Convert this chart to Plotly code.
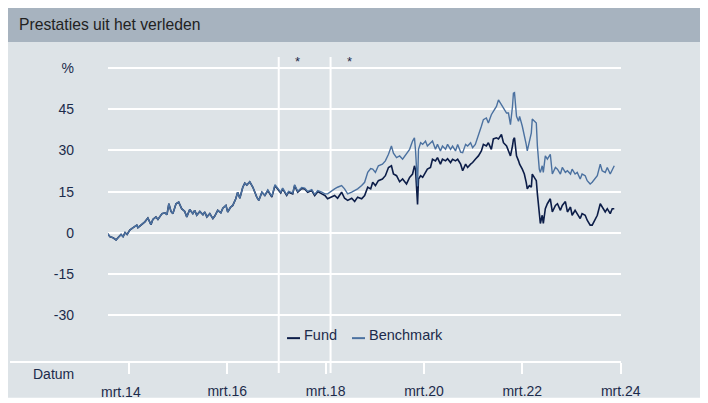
import plotly.graph_objects as go

dates = [
    "2013-09-22", "2013-10-12", "2013-11-04", "2013-11-26", "2013-12-10",
    "2014-01-02", "2014-01-17", "2014-02-01", "2014-02-16", "2014-03-08", "2014-03-30", "2014-04-29", "2014-05-07",
    "2014-06-06", "2014-06-28", "2014-07-20", "2014-08-12", "2014-08-26", "2014-09-18", "2014-10-03", "2014-11-02",
    "2014-11-24", "2014-12-09", "2014-12-23",
    "2015-01-08", "2015-01-22", "2015-02-14", "2015-03-06", "2015-03-28", "2015-04-20", "2015-05-05", "2015-05-27",
    "2015-06-19", "2015-07-03", "2015-07-18", "2015-08-10", "2015-09-02", "2015-09-16", "2015-10-01", "2015-10-23",
    "2015-11-15", "2015-11-29", "2015-12-21",
    "2016-01-13", "2016-01-28", "2016-02-20", "2016-03-04", "2016-03-26", "2016-04-11", "2016-05-03", "2016-05-17",
    "2016-06-02", "2016-06-24", "2016-07-09", "2016-07-24", "2016-08-15", "2016-09-07", "2016-10-06", "2016-10-21",
    "2016-11-13", "2016-12-05", "2016-12-27",
    "2017-01-26", "2017-02-18", "2017-03-10", "2017-04-02", "2017-04-16", "2017-05-16", "2017-05-30", "2017-06-30",
    "2017-07-14", "2017-08-06", "2017-09-05", "2017-09-27", "2017-10-19", "2017-11-18", "2017-12-10",
    "2018-01-02", "2018-02-01", "2018-02-24", "2018-03-16", "2018-04-15", "2018-05-07", "2018-05-29", "2018-06-28",
    "2018-07-20", "2018-08-12", "2018-09-11", "2018-10-03", "2018-10-25", "2018-11-24", "2018-12-16",
    "2019-01-08", "2019-01-30", "2019-02-14", "2019-03-06", "2019-03-28", "2019-04-27", "2019-05-19", "2019-06-11",
    "2019-07-03", "2019-07-18", "2019-08-10", "2019-09-02", "2019-09-24", "2019-10-23", "2019-11-15", "2019-12-07",
    "2019-12-21", "2019-12-29",
    "2020-01-13", "2020-01-20", "2020-02-05", "2020-02-20", "2020-03-12", "2020-03-26", "2020-04-18", "2020-05-03",
    "2020-05-25", "2020-06-09", "2020-07-01", "2020-07-16", "2020-08-08", "2020-08-23", "2020-09-14", "2020-09-29",
    "2020-10-21", "2020-11-06", "2020-11-28", "2020-12-13",
    "2021-01-04", "2021-01-19", "2021-02-10", "2021-02-25", "2021-03-17", "2021-04-09", "2021-05-01", "2021-05-16",
    "2021-06-07", "2021-06-22", "2021-07-14", "2021-07-29", "2021-08-21", "2021-09-05", "2021-09-27", "2021-10-12",
    "2021-11-04", "2021-11-18", "2021-12-03", "2021-12-18", "2021-12-25",
    "2022-01-02", "2022-01-17", "2022-02-01", "2022-02-09", "2022-03-01", "2022-03-16", "2022-03-30", "2022-04-07",
    "2022-04-22", "2022-05-07", "2022-05-14", "2022-05-29", "2022-06-13", "2022-06-21", "2022-07-05", "2022-07-13",
    "2022-07-27", "2022-08-04", "2022-08-19", "2022-09-03", "2022-09-25", "2022-10-10", "2022-11-02", "2022-11-17",
    "2022-12-09", "2022-12-23",
    "2023-01-15", "2023-01-30", "2023-02-22", "2023-03-06", "2023-03-28", "2023-04-13", "2023-05-05", "2023-05-19",
    "2023-06-11", "2023-06-26", "2023-07-18", "2023-08-02", "2023-08-24", "2023-09-09", "2023-10-01", "2023-10-15",
    "2023-11-07", "2023-11-22", "2023-12-14", "2023-12-29",
    "2024-01-13",
]

fund = [
    -0.2, -1.4, -1.8, -2.6, -1.8,
    -0.6, -1.4, 0.1, -0.6, 1.0, 1.8, 2.8, 1.9, 3.0, 4.0, 5.4, 3.0, 4.9, 5.8, 4.9, 7.0, 7.3, 6.6, 10.6,
    7.8, 7.0, 10.6, 11.2, 8.8, 7.8, 5.8, 8.5, 7.0, 8.2, 6.4, 7.8, 6.6, 7.6, 5.8, 7.0, 5.2, 6.1, 8.2,
    7.3, 9.0, 10.0, 7.6, 9.4, 10.0, 12.4, 14.8, 12.6, 16.6, 18.1, 17.4, 18.6, 16.6, 13.0, 11.8, 14.8, 13.6, 15.4,
    13.0, 17.2, 16.0, 14.5, 16.0, 13.6, 14.8, 14.2, 17.2, 14.8, 16.2, 16.0, 14.8, 15.4, 13.6,
    15.0, 14.2, 13.6, 12.4, 13.0, 13.6, 12.6, 14.8, 12.6, 11.8, 12.6, 11.4, 13.0, 12.4, 13.6,
    16.6, 16.0, 18.4, 17.2, 19.0, 19.6, 20.8, 23.8, 24.4, 21.4, 20.8, 18.6, 19.6, 17.8, 20.2, 21.4, 24.4, 23.0,
    10.3, 19.6, 20.8, 20.2, 22.0, 23.2, 23.8, 26.8, 26.2, 27.4, 25.0, 26.8, 26.2, 27.0, 25.6, 26.8, 26.2, 26.8,
    25.0, 22.6,
    25.0, 23.8, 25.0, 25.6, 26.8, 28.0, 29.8, 32.2, 31.6, 32.8, 30.4, 34.2, 34.6, 34.2, 35.8, 32.8, 31.6, 29.8,
    28.0, 31.6, 34.0,
    34.6, 28.0, 26.2, 25.0, 23.2, 21.4, 18.4, 16.0, 17.2, 16.6, 21.4, 20.2, 19.0, 14.2, 7.6, 3.4, 6.4, 3.4, 8.8,
    10.6, 12.4, 7.6, 10.0, 10.6, 8.2, 10.0,
    11.4, 7.6, 9.4, 6.4, 8.2, 7.0, 5.2, 7.0, 6.4, 4.6, 2.8, 2.8, 5.2, 6.4, 10.6, 9.4, 7.6, 8.8, 7.0, 8.8,
    8.8,
]

benchmark = [
    -0.2, -1.4, -1.8, -2.6, -1.8,
    -0.6, -1.4, 0.1, -0.6, 1.0, 1.8, 2.8, 1.9, 3.0, 4.0, 5.4, 3.0, 4.9, 5.8, 4.9, 7.0, 7.3, 6.6, 10.6,
    7.8, 7.0, 10.6, 11.2, 8.8, 7.8, 5.8, 8.5, 7.0, 8.2, 6.4, 7.8, 6.6, 7.6, 5.8, 7.0, 5.2, 6.1, 8.2,
    7.3, 9.0, 10.0, 7.6, 9.4, 10.0, 12.4, 14.8, 12.6, 16.6, 18.1, 17.4, 18.6, 16.6, 13.0, 11.8, 14.8, 13.6, 15.6,
    13.3, 17.5, 16.3, 14.8, 16.3, 13.9, 15.1, 14.5, 17.5, 15.1, 16.5, 16.3, 15.1, 15.7, 14.0,
    15.4, 14.8, 14.2, 14.2, 15.4, 16.0, 16.6, 17.2, 16.0, 14.2, 14.8, 15.4, 16.0, 17.2, 18.4,
    22.0, 23.4, 23.2, 22.0, 24.4, 25.0, 26.2, 28.6, 31.6, 29.0, 27.4, 28.0, 26.8, 28.6, 30.4, 33.4, 34.6, 30.0,
    17.0, 30.4, 32.8, 32.2, 33.4, 31.6, 32.8, 33.4, 30.4, 32.2, 29.8, 31.6, 30.4, 32.2, 30.4, 31.6, 29.8, 32.2,
    29.4, 29.2,
    32.2, 31.6, 32.8, 31.0, 32.2, 35.2, 38.8, 41.2, 41.8, 40.0, 43.0, 44.2, 46.0, 48.4, 46.6, 45.4, 43.6, 43.6,
    39.4, 46.0, 50.8,
    51.0, 42.4, 40.6, 42.4, 38.8, 35.8, 32.2, 29.8, 32.8, 36.4, 41.4, 40.6, 40.0, 31.6, 23.2, 22.0, 24.4, 22.0,
    28.0, 26.8, 28.6, 21.4, 23.8, 23.2, 21.4, 23.8,
    22.0, 22.6, 21.4, 23.2, 21.4, 22.0, 19.6, 21.4, 20.8, 19.0, 17.8, 18.4, 19.6, 20.8, 25.0, 22.6, 22.0, 23.8,
    21.4, 23.2,
    24.4,
]

series_names = ["Fund", "Benchmark"]
x_tick_dates = ["2014-03-01", "2016-03-01", "2018-03-01", "2020-03-01", "2022-03-01", "2024-03-01"]
x_tick_labels = ["mrt.14", "mrt.16", "mrt.18", "mrt.20", "mrt.22", "mrt.24"]
y_tick_values = [-30, -15, 0, 15, 30, 45, 60]
y_tick_labels = ["-30", "-15", "0", "15", "30", "45", "%"]
marker_dates = ["2017-03-18", "2018-04-07"]
asterisk_dates = ["2017-08-06", "2018-08-26"]

FONT = "Liberation Sans, Arial, sans-serif"
TXT = "#1c2b4b"
FUND_C = "#0c1d48"
BENCH_C = "#4b71a0"
BG = "#dde3e7"
BAR = "#a7b3bf"

fig = go.Figure()
fig.add_trace(go.Scatter(x=dates, y=fund, mode="lines", name=series_names[0],
                         line=dict(color=FUND_C, width=1.6)))
fig.add_trace(go.Scatter(x=dates, y=benchmark, mode="lines", name=series_names[1],
                         line=dict(color=BENCH_C, width=1.4)))

shapes = []
# background panel and title bar
shapes.append(dict(type="rect", xref="paper", yref="paper", x0=-0.2, x1=1.154, y0=-0.117, y1=1.049,
                   fillcolor=BG, line=dict(width=0), layer="below"))
shapes.append(dict(type="rect", xref="paper", yref="paper", x0=-0.2, x1=1.154, y0=1.049, y1=1.2,
                   fillcolor=BAR, line=dict(width=0), layer="below"))
# bottom base line
shapes.append(dict(type="line", xref="paper", yref="paper", x0=-0.191, x1=1.0, y0=0, y1=0,
                   line=dict(color="white", width=2), layer="below"))
# vertical marker lines
for d in marker_dates:
    shapes.append(dict(type="line", xref="x", yref="paper", x0=d, x1=d, y0=-0.036, y1=1.0,
                       line=dict(color="white", width=2), layer="below"))
# legend samples
shapes.append(dict(type="line", xref="paper", yref="paper", x0=0.349, x1=0.3743, y0=0.0782, y1=0.0782,
                   line=dict(color=FUND_C, width=2)))
shapes.append(dict(type="line", xref="paper", yref="paper", x0=0.4756, x1=0.501, y0=0.0782, y1=0.0782,
                   line=dict(color=BENCH_C, width=2)))

annotations = [
    dict(text="Prestaties uit het verleden", xref="paper", yref="paper", x=-0.177, y=1.1075,
         xanchor="left", yanchor="middle", showarrow=False, font=dict(size=15.7, color="#222222", family=FONT)),
    dict(text="Datum", xref="paper", yref="paper", x=-0.107, y=-0.039, xanchor="center", yanchor="middle",
         showarrow=False, font=dict(size=14, color=TXT, family=FONT)),
    dict(text=series_names[0], xref="paper", yref="paper", x=0.3782, y=0.088, xanchor="left", yanchor="middle",
         showarrow=False, font=dict(size=14.5, color=TXT, family=FONT)),
    dict(text=series_names[1], xref="paper", yref="paper", x=0.5049, y=0.088, xanchor="left", yanchor="middle",
         showarrow=False, font=dict(size=14.5, color=TXT, family=FONT)),
    # first tick label sits slightly left of its tick in the reference
    dict(text=x_tick_labels[0], xref="paper", yref="paper", x=0.025, y=-0.097, xanchor="center",
         yanchor="middle", showarrow=False, font=dict(size=14, color=TXT, family=FONT)),
]
for d in asterisk_dates:
    annotations.append(dict(text="*", xref="x", yref="paper", x=d, y=0.984, xanchor="center", yanchor="middle",
                            showarrow=False, font=dict(size=13, color=TXT, family=FONT)))

fig.update_layout(
    width=708, height=403,
    margin=dict(l=100, r=95, t=49, b=47, pad=0),
    paper_bgcolor="white", plot_bgcolor="rgba(0,0,0,0)",
    showlegend=False,
    font=dict(family=FONT, size=14, color=TXT),
    shapes=shapes, annotations=annotations,
    xaxis=dict(type="date", range=["2013-09-27", "2024-03-03"], tickvals=x_tick_dates,
               ticktext=[""] + x_tick_labels[1:],
               showgrid=False, zeroline=False, showline=False, ticks="outside", ticklen=11, tickwidth=2,
               tickcolor="white", ticklabelstandoff=5, tickfont=dict(size=14, color=TXT, family=FONT)),
    yaxis=dict(range=[-47, 64], tickvals=y_tick_values, ticktext=y_tick_labels, showgrid=True,
               gridcolor="white", gridwidth=2, zeroline=False, showline=False, ticks="",
               ticklabelstandoff=33, tickfont=dict(size=14, color=TXT, family=FONT)),
)

fig.write_html("out.html")
